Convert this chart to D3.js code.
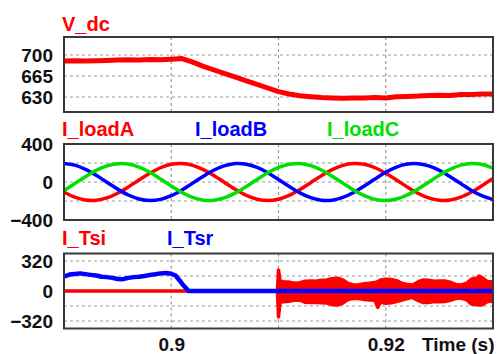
<!DOCTYPE html>
<html>
<head>
<meta charset="utf-8">
<script src="https://cdn.jsdelivr.net/npm/d3@7"></script>
<style>
  html, body { margin: 0; padding: 0; background: #fff; }
  svg { display: block; }
</style>
</head>
<body>
<svg id="chart" width="498" height="354"></svg>
<script>
// Sample instants (s), 1 ms apart, for the DC-link voltage and load currents
const sampleTime = d3.range(41).map(i => +(0.89 + i * 0.001).toFixed(4));

// DC-link voltage (V)
const vdc = [690, 690.5, 690, 690.5, 691, 691.5, 692, 691.5, 692.5, 692, 693, 694, 688, 681, 675,
  669, 663, 657, 651, 645, 639, 635, 632, 630.5, 629, 628.5, 628, 628.5, 628.5, 629, 628.5,
  630.5, 631, 631.5, 632.5, 633, 632.5, 634, 634, 635, 635];

// Three-phase load currents (A)
const iLoadA = [-106, -160, -190, -193, -168, -118, -52, 22, 93, 150, 186, 194, 175, 130, 66, -7,
  -80, -141, -181, -195, -181, -141, -80, -7, 66, 130, 175, 194, 186, 150, 93, 22, -52, -118,
  -168, -193, -190, -160, -106, -37, 37];
const iLoadB = [195, 177, 133, 71, -2, -75, -137, -179, -195, -183, -144, -84, -12, 61, 126, 172,
  194, 187, 154, 98, 27, -47, -114, -165, -192, -191, -162, -110, -42, 32, 102, 157, 189, 193,
  170, 122, 56, -17, -89, -147, -184];
const iLoadC = [-89, -17, 56, 122, 170, 193, 189, 157, 102, 32, -42, -110, -162, -191, -192, -165,
  -114, -47, 27, 98, 154, 187, 194, 172, 126, 61, -12, -84, -144, -183, -195, -179, -137, -75,
  -2, 71, 133, 177, 195, 184, 147];

// Series transformer current I_Tsr (A)
const tsrTime = [0.8900, 0.8905, 0.8910, 0.8915, 0.8920, 0.8925, 0.8930, 0.8935, 0.8940, 0.8945,
  0.8950, 0.8955, 0.8960, 0.8965, 0.8970, 0.8975, 0.8980, 0.8985, 0.8990, 0.8995, 0.9000,
  0.9004, 0.9008, 0.9011, 0.9014, 0.9016, 0.9300];
const iTsr = [153, 175, 182, 188, 180, 172, 165, 152, 148, 140, 128, 126, 140, 148, 152, 160, 170,
  178, 188, 192, 184, 165, 110, 65, 28, 0, 0];

// Shunt transformer current I_Tsi (A): switching-ripple envelope
const tsiTime = [0.89, 0.9099, 0.91, 0.91015, 0.9105, 0.911, 0.9115, 0.912, 0.9125, 0.913,
  0.9135, 0.914, 0.9145, 0.915, 0.9155, 0.916, 0.9165, 0.917, 0.9175, 0.918, 0.9185, 0.919,
  0.91925, 0.9195, 0.92, 0.9205, 0.921, 0.9215, 0.922, 0.9225, 0.923, 0.9235, 0.924, 0.9245,
  0.925, 0.9255, 0.926, 0.9265, 0.927, 0.9275, 0.928, 0.9285, 0.9287, 0.929, 0.9295, 0.93];
const iTsiUpper = [0, 0, 224, 105, 100, 95, 82, 88, 105, 108, 104, 115, 118, 132, 136, 118, 80, 64,
  68, 78, 84, 90, 100, 118, 126, 124, 110, 82, 70, 64, 96, 118, 115, 104, 108, 106, 95, 70, 64,
  80, 128, 136, 160, 140, 100, 98];
const iTsiLower = [0, 0, -274, -118, -114, -110, -96, -98, -120, -124, -122, -126, -128, -146, -150,
  -130, -90, -78, -80, -92, -96, -100, -174, -120, -130, -126, -112, -96, -80, -68, -100, -124,
  -122, -112, -114, -112, -100, -80, -76, -90, -140, -148, -150, -146, -112, -110];

// Axis ticks and grid positions
const xTicks = [0.9, 0.92];
const xGrid = [0.9, 0.91, 0.92];
const vdcTicks = [700, 665, 630];
const vdcGrid = [700, 665, 630];
const loadTicks = [400, 0, -400];
const loadGrid = [200, 0, -200];
const tsTicks = [320, 0, -320];
const tsGrid = [320, 160, 0, -160, -320];

const RED = "#ff0000", BLUE = "#0000ff", GREEN = "#00e000";
const FONT = "'Liberation Sans', Arial, Helvetica, sans-serif";

const svg = d3.select("#chart");
const x = d3.scaleLinear().domain([0.89, 0.93]).range([64, 493]);
const [x0, x1] = x.range();

function makePanel(id, top, bottom, domain, ticks, grid) {
  const y = d3.scaleLinear().domain(domain).range([bottom, top]);
  const g = svg.append("g");
  g.append("rect").attr("x", x0).attr("y", top).attr("width", x1 - x0)
    .attr("height", bottom - top).attr("fill", "#fff");
  g.selectAll(null).data(grid).join("line")
    .attr("x1", x0).attr("x2", x1).attr("y1", d => y(d)).attr("y2", d => y(d))
    .attr("stroke", "#9a9a9a").attr("stroke-width", 1.2).attr("stroke-dasharray", "3,3");
  g.selectAll(null).data(xGrid).join("line")
    .attr("x1", d => x(d)).attr("x2", d => x(d)).attr("y1", top).attr("y2", bottom)
    .attr("stroke", "#9a9a9a").attr("stroke-width", 1.2).attr("stroke-dasharray", "3,3");
  svg.append("clipPath").attr("id", id).append("rect")
    .attr("x", x0).attr("y", top).attr("width", x1 - x0).attr("height", bottom - top);
  const plot = g.append("g").attr("clip-path", `url(#${id})`);
  const axis = g.append("g").attr("transform", `translate(${x0},0)`)
    .call(d3.axisLeft(y).tickValues(ticks).tickSize(0).tickPadding(11).tickFormat(d3.format("d")));
  axis.select(".domain").remove();
  axis.attr("font-family", FONT).attr("font-size", 19).attr("font-weight", "bold");
  axis.selectAll("text").attr("fill", "#111");
  return { g, plot, y, top, bottom };
}

function frame(p) {
  p.g.append("rect").attr("x", x0).attr("y", p.top).attr("width", x1 - x0)
    .attr("height", p.bottom - p.top).attr("fill", "none")
    .attr("stroke", "#383838").attr("stroke-width", 2);
}

function title(txt, tx, ty, color) {
  svg.append("text").attr("x", tx).attr("y", ty).text(txt)
    .attr("font-family", FONT).attr("font-size", 20).attr("font-weight", "bold")
    .attr("fill", color);
}

// Panel 1: V_dc
const p1 = makePanel("clip1", 37, 112, [605, 730], vdcTicks, vdcGrid);
p1.plot.append("path").datum(vdc)
  .attr("d", d3.line().x((d, i) => x(sampleTime[i])).y(d => p1.y(d)))
  .attr("fill", "none").attr("stroke", RED).attr("stroke-width", 5).attr("stroke-linejoin", "round");
frame(p1);
title("V_dc", 62, 31, RED);

// Panel 2: load currents
const p2 = makePanel("clip2", 144, 220, [-400, 400], loadTicks, loadGrid);
const loadLine = d3.line().x((d, i) => x(sampleTime[i])).y(d => p2.y(d)).curve(d3.curveCatmullRom);
[[iLoadA, RED], [iLoadB, BLUE], [iLoadC, GREEN]].forEach(([s, c]) => {
  p2.plot.append("path").datum(s).attr("d", loadLine)
    .attr("fill", "none").attr("stroke", c).attr("stroke-width", 3.5);
});
frame(p2);
title("I_loadA", 62, 136, RED);
title("I_loadB", 195, 136, BLUE);
title("I_loadC", 327, 136, GREEN);

// Panel 3: transformer currents
const p3 = makePanel("clip3", 253.5, 328.5, [-400, 400], tsTicks, tsGrid);
p3.plot.append("path").datum(d3.range(tsiTime.length))
  .attr("d", d3.area().x(i => x(tsiTime[i])).y0(i => p3.y(iTsiLower[i])).y1(i => p3.y(iTsiUpper[i])))
  .attr("fill", RED).attr("stroke", RED).attr("stroke-width", 3.5).attr("stroke-linejoin", "round");
p3.plot.append("path").datum(iTsr)
  .attr("d", d3.line().x((d, i) => x(tsrTime[i])).y(d => p3.y(d)))
  .attr("fill", "none").attr("stroke", BLUE).attr("stroke-width", 4.5).attr("stroke-linejoin", "round");
frame(p3);
title("I_Tsi", 62, 245, RED);
title("I_Tsr", 167, 245, BLUE);

// Time axis
const xAxis = svg.append("g").attr("transform", `translate(0,${p3.bottom})`)
  .call(d3.axisBottom(x).tickValues(xTicks).tickSize(0).tickPadding(9).tickFormat(d3.format("")));
xAxis.select(".domain").remove();
xAxis.attr("font-family", FONT).attr("font-size", 19).attr("font-weight", "bold");
xAxis.selectAll("text").attr("fill", "#111");
svg.append("text").attr("x", 422).attr("y", 351).text("Time (s)")
  .attr("font-family", FONT).attr("font-size", 19).attr("font-weight", "bold").attr("fill", "#111");
</script>
</body>
</html>
